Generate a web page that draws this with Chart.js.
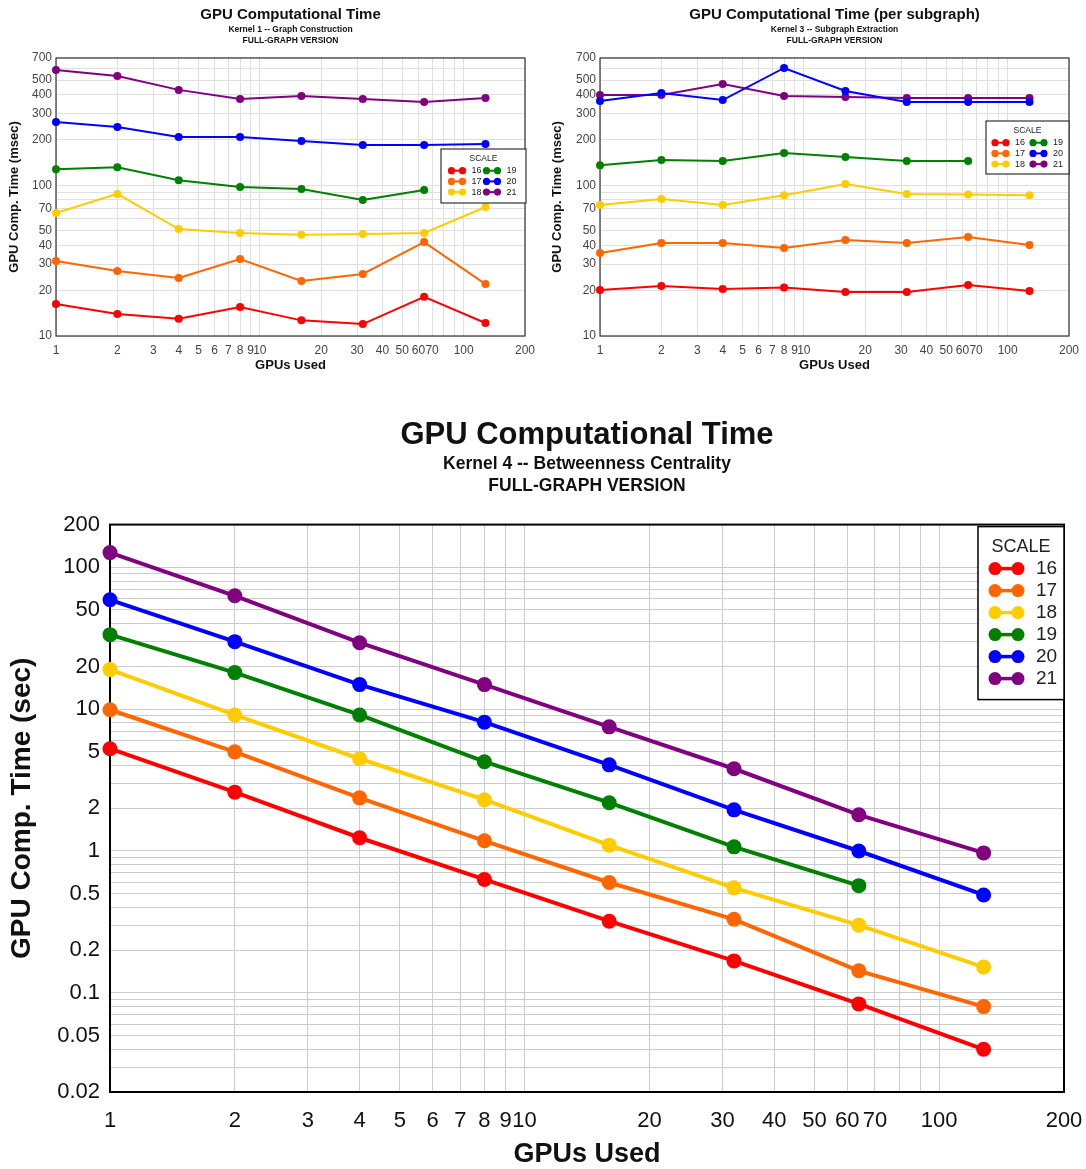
<!DOCTYPE html>
<html>
<head>
<meta charset="utf-8">
<script src="https://cdn.jsdelivr.net/npm/chart.js@4.4.1/dist/chart.umd.min.js"></script>
<style>
  html, body { margin: 0; padding: 0; background: #fff; }
  #wrap { position: relative; width: 1086px; height: 1169px; overflow: hidden; }
  canvas { position: absolute; }
</style>
</head>
<body>
<div id="wrap">
  <canvas id="c1" width="543" height="375" style="left:0;top:0"></canvas>
  <canvas id="c3" width="543" height="375" style="left:543px;top:0"></canvas>
  <canvas id="c4" width="1086" height="764" style="left:0;top:405px"></canvas>
</div>
<script>
// ---------------- DATA ----------------
const gpus = [1, 2, 4, 8, 16, 32, 64, 128];
const scales = ['16', '17', '18', '19', '20', '21'];
const scaleColors = ['#ff0000', '#ff6600', '#ffcc00', '#008000', '#0000ff', '#800080'];

// Kernel 1 -- Graph Construction (msec)
const k1_16 = [16.3, 14.0, 13.0, 15.6, 12.7, 12.0, 18.2, 12.2];
const k1_17 = [31.5, 27.0, 24.3, 32.4, 23.2, 25.8, 42.0, 22.1];
const k1_18 = [65.5, 87.7, 51.3, 48.3, 46.9, 47.5, 48.3, 71.8];
const k1_19 = [128, 132, 108, 97.5, 94.6, 80, 93];
const k1_20 = [263, 244, 209, 209, 197, 185, 185, 188];
const k1_21 = [582, 532, 430, 374, 392, 374, 357, 380];

// Kernel 3 -- Subgraph Extraction (msec per subgraph)
const k3_16 = [20.2, 21.5, 20.5, 21.0, 19.6, 19.6, 21.8, 19.9];
const k3_17 = [35.6, 41.4, 41.4, 38.4, 43.4, 41.4, 45.4, 40.2];
const k3_18 = [74, 81, 74, 86, 102, 87.7, 87, 86];
const k3_19 = [136, 147, 145, 164, 154, 145, 145];
const k3_20 = [363, 410, 368, 601, 423, 357, 357, 357];
const k3_21 = [398, 398, 470, 392, 385, 380, 380, 380];

// Kernel 4 -- Betweenness Centrality (sec)
const k4_16 = [5.26, 2.6, 1.24, 0.63, 0.32, 0.168, 0.0836, 0.040];
const k4_17 = [9.9, 5.0, 2.37, 1.18, 0.60, 0.33, 0.143, 0.080];
const k4_18 = [19, 9.1, 4.47, 2.3, 1.1, 0.55, 0.30, 0.152];
const k4_19 = [33.5, 18.1, 9.1, 4.26, 2.19, 1.07, 0.57];
const k4_20 = [59, 29.9, 14.9, 8.1, 4.05, 1.95, 1.0, 0.49];
const k4_21 = [127, 63, 29.4, 14.9, 7.5, 3.8, 1.8, 0.97];

// Tick positions and labels
const xTicks = [1, 2, 3, 4, 5, 6, 7, 8, 9, 10, 20, 30, 40, 50, 60, 70, 80, 90, 100, 200];
const xTickLabels = [1, 2, 3, 4, 5, 6, 7, 8, 9, 10, 20, 30, 40, 50, 60, 70, 100, 200];
const yTicksMs = [10, 20, 30, 40, 50, 60, 70, 80, 90, 100, 200, 300, 400, 500, 600, 700];
const yTickLabelsMs = [10, 20, 30, 40, 50, 70, 100, 200, 300, 400, 500, 700];
const yTicksSec = [0.02, 0.03, 0.04, 0.05, 0.06, 0.07, 0.08, 0.09, 0.1, 0.2, 0.3, 0.4, 0.5, 0.6, 0.7, 0.8, 0.9,
                   1, 2, 3, 4, 5, 6, 7, 8, 9, 10, 20, 30, 40, 50, 60, 70, 80, 90, 100, 200];
const yTickLabelsSec = [0.02, 0.05, 0.1, 0.2, 0.5, 1, 2, 5, 10, 20, 50, 100, 200];

// ---------------- HELPERS ----------------
Chart.defaults.font.family = "'Liberation Sans', Arial, sans-serif";
Chart.defaults.animation = false;

function makeDatasets(series, radius, lw) {
  return series.map((vals, i) => ({
    label: scales[i],
    data: vals.map((v, j) => ({ x: gpus[j], y: v })),
    borderColor: scaleColors[i],
    backgroundColor: scaleColors[i],
    pointBackgroundColor: scaleColors[i],
    pointBorderColor: scaleColors[i],
    pointRadius: radius,
    pointBorderWidth: 0,
    borderWidth: lw,
    tension: 0,
    clip: false
  }));
}

const plotBorder = {
  id: 'plotBorder',
  beforeDatasetsDraw(chart, args, o) {
    const a = chart.chartArea, ctx = chart.ctx;
    ctx.save();
    ctx.strokeStyle = o.color;
    ctx.lineWidth = o.width;
    ctx.strokeRect(a.left, a.top, a.right - a.left, a.bottom - a.top);
    ctx.restore();
  }
};

const scaleLegend = {
  id: 'scaleLegend',
  afterDatasetsDraw(chart, args, o) {
    const a = chart.chartArea, ctx = chart.ctx;
    const x = a.right - o.w + o.dx, y = a.top + o.dy;
    ctx.save();
    ctx.fillStyle = '#ffffff';
    ctx.fillRect(x, y, o.w, o.h);
    ctx.strokeStyle = o.border;
    ctx.lineWidth = o.bw;
    ctx.strokeRect(x, y, o.w, o.h);
    ctx.fillStyle = '#222';
    ctx.font = o.titleFont;
    ctx.textAlign = 'center';
    ctx.textBaseline = 'middle';
    ctx.fillText('SCALE', x + o.w / 2, y + o.titleY);
    chart.data.datasets.forEach((ds, i) => {
      const col = Math.floor(i / o.rows), row = i % o.rows;
      const cx = x + o.colX[col], cy = y + o.rowY0 + row * o.rowH;
      ctx.strokeStyle = ds.borderColor;
      ctx.lineWidth = o.lw;
      ctx.beginPath(); ctx.moveTo(cx, cy); ctx.lineTo(cx + o.sw, cy); ctx.stroke();
      ctx.fillStyle = ds.borderColor;
      [cx, cx + o.sw].forEach(px => { ctx.beginPath(); ctx.arc(px, cy, o.r, 0, Math.PI * 2); ctx.fill(); });
      ctx.fillStyle = '#222';
      ctx.font = o.font;
      ctx.textAlign = 'left';
      ctx.fillText(ds.label, cx + o.sw + o.gap, cy);
    });
    ctx.restore();
  }
};

function logAxis(ticksArr, labelsArr, cfg) {
  return {
    type: 'logarithmic',
    position: cfg.position,
    min: ticksArr[0],
    max: ticksArr[ticksArr.length - 1],
    afterBuildTicks: s => { s.ticks = ticksArr.map(v => ({ value: v })); },
    afterFit: s => {
      if (cfg.width !== undefined) s.width = cfg.width;
      if (cfg.height !== undefined) s.height = cfg.height;
      s.paddingLeft = 0; s.paddingRight = 0; s.paddingTop = 0; s.paddingBottom = 0;
    },
    grid: { color: cfg.gridColor, lineWidth: 1, drawTicks: false },
    border: { display: false },
    ticks: {
      autoSkip: false,
      maxRotation: 0,
      minRotation: 0,
      padding: cfg.tickPad,
      color: cfg.tickColor,
      font: { size: cfg.tickSize },
      callback: v => (labelsArr.includes(v) ? String(v) : '')
    },
    title: {
      display: true,
      text: cfg.title,
      color: '#111',
      font: { size: cfg.titleSize, weight: 'bold', lineHeight: cfg.titleLH || 1.2 },
      padding: cfg.titlePad
    }
  };
}

function smallChart(id, series, title, sub, yW, padR, legendCfg) {
  return new Chart(document.getElementById(id), {
    type: 'line',
    data: { datasets: makeDatasets(series, 4, 2) },
    options: {
      responsive: false,
      layout: { padding: { left: 0, right: padR, top: 0, bottom: 0 } },
      plugins: {
        legend: { display: false },
        tooltip: { enabled: false },
        title: {
          display: true, text: title, fullSize: false, color: '#111',
          font: { size: 15, weight: 'bold', lineHeight: 1.2 },
          padding: { top: 5.5, bottom: 0.5 }
        },
        subtitle: {
          display: true, text: sub, fullSize: false, color: '#111',
          font: { size: 8.5, weight: 'bold', lineHeight: 1.294 },
          padding: { top: 0, bottom: 12 }
        },
        plotBorder: { color: '#333', width: 1.2 },
        scaleLegend: legendCfg
      },
      scales: {
        x: logAxis(xTicks, xTickLabels, {
          position: 'bottom', height: 39, gridColor: '#e0e0e0', tickPad: 7, tickColor: '#444',
          tickSize: 12, title: 'GPUs Used', titleSize: 13, titlePad: { top: 2, bottom: 1.5 }
        }),
        y: logAxis(yTicksMs, yTickLabelsMs, {
          position: 'left', width: yW, gridColor: '#e0e0e0', tickPad: 4, tickColor: '#444',
          tickSize: 12, title: 'GPU Comp. Time (msec)', titleSize: 13, titlePad: { top: 7, bottom: 4 }
        })
      }
    },
    plugins: [plotBorder, scaleLegend]
  });
}

const smallLegend = (dx, dy, w, h, colX) => ({
  dx: dx, dy: dy, w: w, h: h, border: '#333', bw: 1.2,
  titleFont: "8.5px 'Liberation Sans', Arial, sans-serif", titleY: 10,
  rows: 3, rowY0: 21.7, rowH: 10.7, colX: colX, sw: 11, r: 3.6, lw: 2, gap: 9,
  font: "9px 'Liberation Sans', Arial, sans-serif"
});

smallChart('c1', [k1_16, k1_17, k1_18, k1_19, k1_20, k1_21],
  'GPU Computational Time', ['Kernel 1 -- Graph Construction', 'FULL-GRAPH VERSION'],
  56, 18, smallLegend(1, 91, 85, 54, [10.5, 45.5]));

smallChart('c3', [k3_16, k3_17, k3_18, k3_19, k3_20, k3_21],
  'GPU Computational Time (per subgraph)', ['Kernel 3 -- Subgraph Extraction', 'FULL-GRAPH VERSION'],
  57, 17, smallLegend(0, 63, 83, 53, [9, 47]));

new Chart(document.getElementById('c4'), {
  type: 'line',
  data: { datasets: makeDatasets([k4_16, k4_17, k4_18, k4_19, k4_20, k4_21], 7.5, 4) },
  options: {
    responsive: false,
    layout: { padding: { left: 0, right: 22, top: 0, bottom: 0 } },
    plugins: {
      legend: { display: false },
      tooltip: { enabled: false },
      title: {
        display: true, text: 'GPU Computational Time', fullSize: false, color: '#111',
        font: { size: 31, weight: 'bold', lineHeight: 1.2 },
        padding: { top: 11.4, bottom: 0 }
      },
      subtitle: {
        display: true, text: ['Kernel 4 -- Betweenness Centrality', 'FULL-GRAPH VERSION'], fullSize: false, color: '#111',
        font: { size: 17.5, weight: 'bold', lineHeight: 1.257 },
        padding: { top: 0, bottom: 27 }
      },
      plotBorder: { color: '#000', width: 2 },
      scaleLegend: {
        dx: 0, dy: 2, w: 86, h: 173, border: '#000', bw: 1.5,
        titleFont: "18px 'Liberation Sans', Arial, sans-serif", titleY: 20,
        rows: 6, rowY0: 42, rowH: 22, colX: [17], sw: 23, r: 6.5, lw: 3.5, gap: 18,
        font: "19px 'Liberation Sans', Arial, sans-serif"
      }
    },
    scales: {
      x: logAxis(xTicks, xTickLabels, {
        position: 'bottom', height: 77, gridColor: '#cccccc', tickPad: 16, tickColor: '#111',
        tickSize: 22, title: 'GPUs Used', titleSize: 27, titleLH: 1.0, titlePad: { top: 2, bottom: 1 }
      }),
      y: logAxis(yTicksSec, yTickLabelsSec, {
        position: 'left', width: 110, gridColor: '#cccccc', tickPad: 10, tickColor: '#111',
        tickSize: 22, title: 'GPU Comp. Time (sec)', titleSize: 28, titlePad: { top: 5, bottom: 4 }
      })
    }
  },
  plugins: [plotBorder, scaleLegend]
});
</script>
</body>
</html>
